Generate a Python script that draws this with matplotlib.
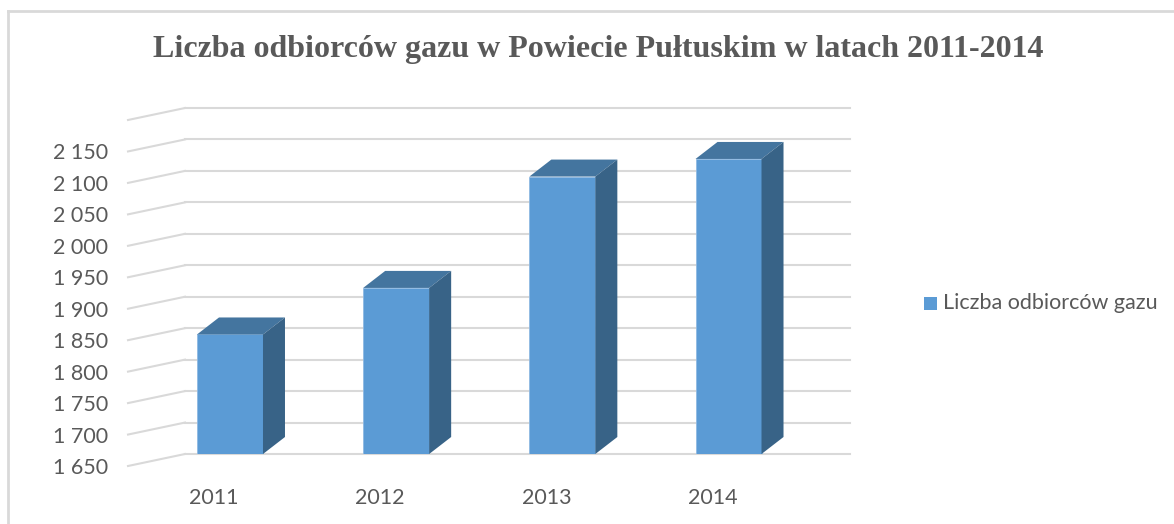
import matplotlib.pyplot as plt
from matplotlib.patches import Polygon, Rectangle
import numpy as np

years = ["2011", "2012", "2013", "2014"]
odbiorcy = [1840, 1914, 2091, 2119]
y_ticks = [1650, 1700, 1750, 1800, 1850, 1900, 1950, 2000, 2050, 2100, 2150]
tick_labels = ["1 650", "1 700", "1 750", "1 800", "1 850", "1 900",
               "1 950", "2 000", "2 050", "2 100", "2 150"]
series_name = "Liczba odbiorców gazu"
title = "Liczba odbiorców gazu w Powiecie Pułtuskim w latach 2011-2014"

front = "#5b9bd5"
top_c = "#44759f"
side_c = "#386387"
grid_c = "#d9d9d9"
text_c = "#595959"

W, H = 1174, 524
fig = plt.figure(figsize=(W / 100, H / 100), dpi=100)

# plot area = back wall in pixels
x0, x1, yb, yt = 185, 850, 454, 108
ax = fig.add_axes([x0 / W, 1 - yb / H, (x1 - x0) / W, (yb - yt) / H])
px_x = 166.2          # pixels per category
px_y = 31.45 / 50     # pixels per unit value
ax.set_xlim(-(230 - x0) / px_x, 3 + (x1 - 728.5) / px_x)
ax.set_ylim(1650, 2200)
ax.axis("off")

# gridlines with the perspective side wall
dxw, dyw = -57 / px_x, -12 / px_y
xl = ax.get_xlim()[0]
for v in y_ticks + [2200]:
    ax.plot(ax.get_xlim(), [v, v], color=grid_c, lw=1.5, zorder=1, clip_on=False)
    ax.plot([xl, xl + dxw], [v, v + dyw], color=grid_c, lw=1.5, zorder=1, clip_on=False)
for v, lab in zip(y_ticks, tick_labels):
    ax.text(xl - (x0 - 108) / px_x, v - 14 / px_y, lab, ha="right", va="center",
            fontsize=15.5, family="Lato", color=text_c, clip_on=False)

# 3d-ish columns
bw = 66 / px_x
ddx, ddy = 22 / px_x, 17 / px_y
xs = np.arange(len(years))
ax.bar(xs, [v - 1650 for v in odbiorcy], bottom=1650, width=bw, color=front,
       edgecolor="#8fb9e3", linewidth=0.6, zorder=3, label=series_name)
for x, v in zip(xs, odbiorcy):
    l, r = x - bw / 2, x + bw / 2
    ax.add_patch(Polygon([(l, v), (r, v), (r + ddx, v + ddy), (l + ddx, v + ddy)],
                         closed=True, fc=top_c, ec="none", zorder=3))
    ax.add_patch(Polygon([(r, 1650), (r, v), (r + ddx, v + ddy), (r + ddx, 1650 + ddy)],
                         closed=True, fc=side_c, ec="none", zorder=3))
    ax.text(x - 16 / px_x, 1650 - 44 / px_y, years[x], ha="center", va="center",
            fontsize=15.5, family="Lato", color=text_c, clip_on=False)

fig.text(598 / W, 1 - 50 / H, title, ha="center", va="center", fontsize=23,
         family="Liberation Serif", fontweight="bold", color=text_c)

# legend
fig.patches.append(Rectangle((924 / W, 1 - 310 / H), 13 / W, 13 / H, fc=front,
                             ec="none", transform=fig.transFigure, figure=fig))
fig.text(943 / W, 1 - 303 / H, series_name, ha="left", va="center", fontsize=15.5,
         family="Lato", color=text_c)

# chart frame
fig.add_artist(plt.Line2D([8 / W, 8 / W], [0, 1 - 11 / H], color=grid_c, lw=2,
                          transform=fig.transFigure))
fig.add_artist(plt.Line2D([8 / W, 1], [1 - 11 / H, 1 - 11 / H], color=grid_c, lw=2,
                          transform=fig.transFigure))

fig.savefig("out.png", dpi=100)
